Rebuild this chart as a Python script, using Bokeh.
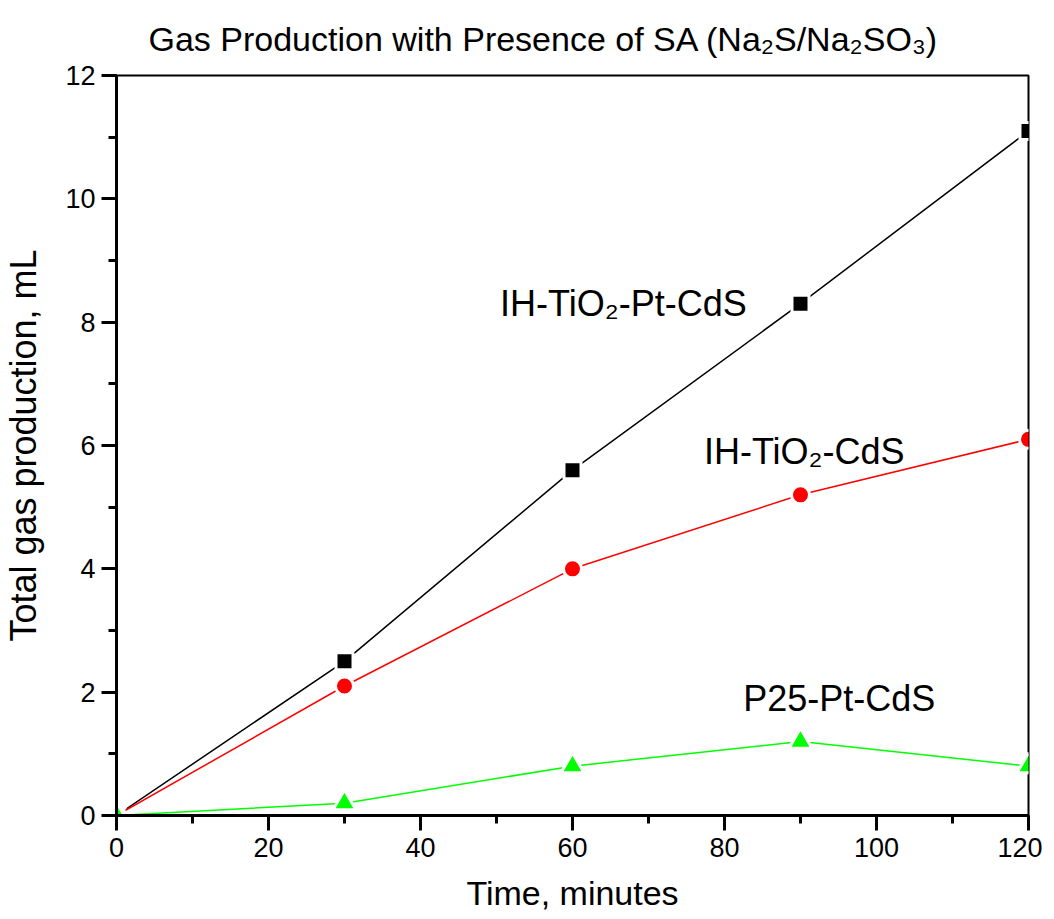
from bokeh.plotting import figure
from bokeh.models import Range1d, LinearAxis, SingleIntervalTicker, ColumnDataSource
from bokeh.core.properties import value
from bokeh.embed import file_html
from bokeh.resources import INLINE

# ---- data ----
time_min = [0, 30, 60, 90, 120]
ih_tio2_pt_cds = [0.0, 2.5, 5.6, 8.3, 11.1]
ih_tio2_cds = [0.0, 2.1, 4.0, 5.2, 6.1]
p25_pt_cds = [0.0, 0.2, 0.8, 1.2, 0.8]

series_names = ["IH-TiO\u2082-Pt-CdS", "IH-TiO\u2082-CdS", "P25-Pt-CdS"]
label_x = [66.7, 90.5, 95.1]
label_y = [8.3, 5.9, 1.9]

title_text = "Gas Production with Presence of SA (Na\u2082S/Na\u2082SO\u2083)"
x_title = "Time, minutes"
y_title = "Total gas production, mL"

FONT = "Liberation Sans"

p = figure(frame_width=912, frame_height=740, output_backend="svg", toolbar_location=None,
           x_range=Range1d(0, 120), y_range=Range1d(0, 12),
           min_border_left=116, min_border_right=14, min_border_top=74, min_border_bottom=90,
           x_axis_location=None, y_axis_location=None)
p.grid.visible = False
p.outline_line_color = "black"
p.outline_line_width = 2
p.background_fill_color = "white"
p.border_fill_color = "white"

# title
p.title.text = title_text
p.title.text_font = FONT
p.title.text_font_size = "34px"
p.title.text_font_style = "normal"
p.title.text_color = "black"
p.title.align = "left"
p.title.offset = 32
p.title.standoff = 35

def style_main(ax):
    ax.axis_line_width = 3
    ax.axis_line_color = "black"
    ax.major_tick_line_width = 3
    ax.minor_tick_line_width = 3
    ax.major_tick_out = 15
    ax.major_tick_in = 0
    ax.minor_tick_out = 8
    ax.minor_tick_in = 0
    ax.major_label_text_font = FONT
    ax.major_label_text_font_size = "27px"
    ax.major_label_text_color = "black"
    ax.axis_label_text_font = FONT
    ax.axis_label_text_font_size = "34px"
    ax.axis_label_text_font_style = "normal"
    ax.axis_label_text_color = "black"

xaxis = LinearAxis(ticker=SingleIntervalTicker(interval=20, num_minor_ticks=2),
                   axis_label=x_title)
style_main(xaxis)
xaxis.major_label_standoff = 7
xaxis.axis_label_standoff = 14
p.add_layout(xaxis, "below")

yaxis = LinearAxis(ticker=SingleIntervalTicker(interval=2, num_minor_ticks=2),
                   axis_label=y_title)
style_main(yaxis)
yaxis.major_label_standoff = 6
yaxis.axis_label_standoff = 18
yaxis.axis_label_text_font_size = "36px"
p.add_layout(yaxis, "left")

src = ColumnDataSource(dict(t=time_min, a=ih_tio2_pt_cds, b=ih_tio2_cds, c=p25_pt_cds))

p.line("t", "a", source=src, line_color="black", line_width=1.5)
p.scatter("t", "a", source=src, marker="square", size=17, fill_color="black",
          line_color="white", line_width=3)
p.line("t", "b", source=src, line_color="#ff0000", line_width=1.5)
p.scatter("t", "b", source=src, marker="circle", size=18, fill_color="#ff0000",
          line_color="white", line_width=3)
p.line("t", "c", source=src, line_color="#00ff00", line_width=1.5)
p.scatter("t", "c", source=src, marker="triangle", size=23, fill_color="#00ff00",
          line_color="white", line_width=3)

lsrc = ColumnDataSource(dict(x=label_x, y=label_y, text=series_names))
p.text("x", "y", text="text", source=lsrc, text_font=value(FONT), text_font_size="36px",
       text_align="center", text_baseline="middle", text_color="black")

open("out.html", "w").write(file_html(p, INLINE))
